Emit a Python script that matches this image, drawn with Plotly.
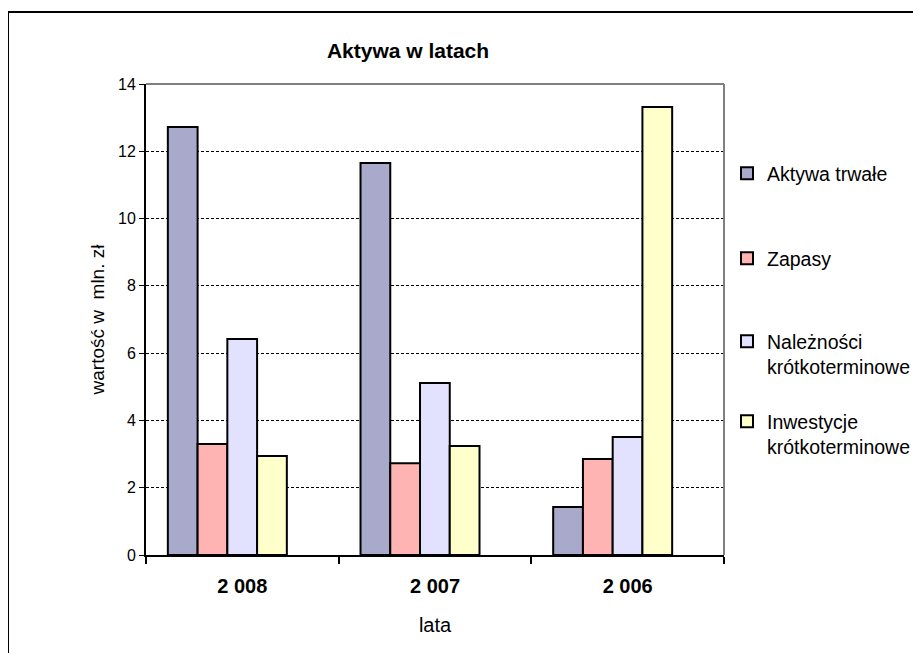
import plotly.graph_objects as go

categories = ["2 008", "2 007", "2 006"]
series_names = ["Aktywa trwałe", "Zapasy", "Należności<br>krótkoterminowe", "Inwestycje<br>krótkoterminowe"]
aktywa_trwale = [12.72, 11.65, 1.43]
zapasy = [3.30, 2.73, 2.85]
naleznosci = [6.42, 5.11, 3.51]
inwestycje = [2.94, 3.24, 13.32]
colors = ["#A9A9CC", "#FFB4B4", "#E2E2FF", "#FFFFCC"]
y_ticks = [0, 2, 4, 6, 8, 10, 12, 14]

FONT = "Arial, Liberation Sans, sans-serif"

# page has an 8px body margin, so figure coords = screen coords - 8;
# the figure is sized so the page does not overflow the 921x653 window
L, T, PW, PH = 138, 76, 578, 471
W, H = 913, 645

# bar group is drawn left of the category centre, as in the original
BAR_W = 0.1544
GROUP_START = -0.3866

legend_names = ["legend", "legend2", "legend3", "legend4"]
legend_tops_screen = [154, 239, 322, 402]

fig = go.Figure()
for i, (name, vals) in enumerate(zip(series_names, [aktywa_trwale, zapasy, naleznosci, inwestycje])):
    fig.add_trace(go.Bar(
        x=categories, y=vals, name=name, legend=legend_names[i],
        width=BAR_W, offset=GROUP_START + i * BAR_W,
        marker=dict(color=colors[i], line=dict(color="black", width=2)),
    ))

legend_common = dict(xanchor="left", yanchor="top", font=dict(size=19.5, family=FONT),
                     valign="top", bgcolor="rgba(0,0,0,0)", itemwidth=30)
legend_layout = {}
for i, ln in enumerate(legend_names):
    ytop = legend_tops_screen[i] - 8
    legend_layout[ln] = dict(x=(719 - L) / PW, y=(T + PH - ytop) / PH, **legend_common)

fig.update_layout(
    width=W, height=H,
    margin=dict(l=L, r=W - L - PW, t=T, b=H - T - PH, autoexpand=False),
    paper_bgcolor="white", plot_bgcolor="white",
    barmode="overlay",
    font=dict(family=FONT, size=16, color="black"),
    title=dict(text="<b>Aktywa w latach</b>", font=dict(size=21, family=FONT),
               xref="paper", x=(400 - L) / PW, xanchor="center",
               yref="container", y=1 - 43 / H, yanchor="middle"),
    showlegend=True,
    **legend_layout,
    xaxis=dict(type="category", showline=True, linecolor="black", linewidth=2,
               ticks="outside", tickson="boundaries", ticklen=7, tickwidth=2, tickcolor="black",
               tickfont=dict(size=20, family=FONT), mirror=False, ticklabelstandoff=12,
               tickprefix="<b>", ticksuffix="</b>", automargin=False,
               title=dict(text="lata", font=dict(size=20, family=FONT), standoff=22)),
    yaxis=dict(range=[0, 14], tickvals=y_ticks, showline=True, linecolor="black", linewidth=2,
               ticks="outside", ticklen=5, tickwidth=1, tickcolor="black",
               tickfont=dict(size=16, family=FONT), automargin=False,
               showgrid=True, gridcolor="black", gridwidth=1, griddash="3px,2px",
               zeroline=False,
               title=dict(text="wartość w  mln. zł", font=dict(size=19, family=FONT), standoff=8)),
    shapes=[
        dict(type="line", xref="paper", yref="paper", x0=0, x1=1, y0=1, y1=1,
             line=dict(color="#808080", width=2)),
        dict(type="line", xref="paper", yref="paper", x0=1, x1=1, y0=0, y1=1,
             line=dict(color="#808080", width=2)),
        dict(type="rect", xref="paper", yref="paper",
             x0=(0 - L) / PW, x1=1.5, y0=-0.3, y1=(T + PH - 4) / PH,
             line=dict(color="black", width=2), layer="below"),
    ],
)

fig.write_html("out.html")
